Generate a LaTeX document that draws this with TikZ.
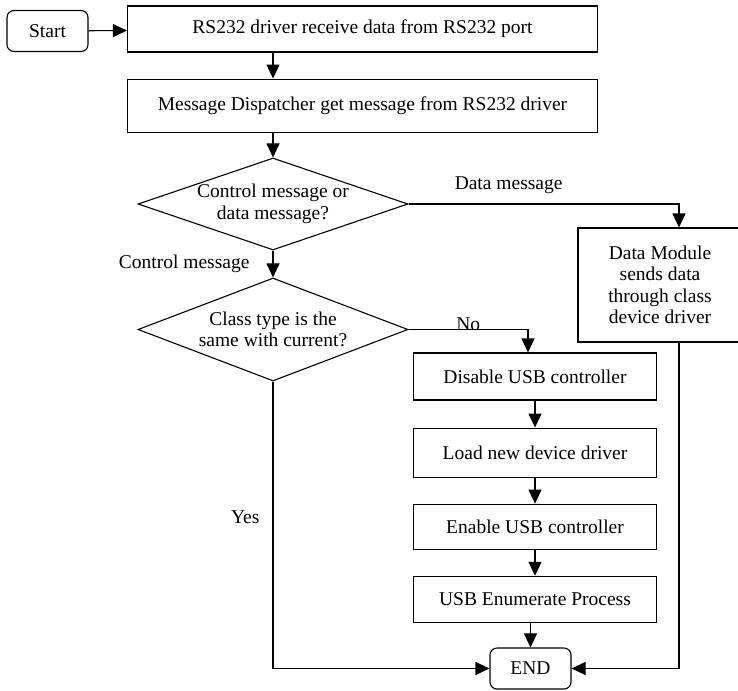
\documentclass[tikz,border=0pt]{standalone}
\usepackage{fontspec}
\setmainfont{Liberation Serif}
\usetikzlibrary{positioning, shapes.geometric, arrows.meta}

\begin{document}
\begin{tikzpicture}[
    x=1pt, y=-1pt,
    font=\fontsize{19.5}{21.5}\selectfont,
    line width=1.1pt,
    box style/.style={draw, align=center, inner sep=0pt, minimum width=243pt},
    term style/.style={draw, rounded corners=7pt, minimum width=81pt, minimum height=41pt, inner sep=0pt},
    cond style/.style={draw, diamond, aspect=3, minimum width=270pt, align=center, inner sep=0pt},
    label style/.style={inner sep=0pt},
    arrow style/.style={-{Triangle[length=14pt, width=13pt]}}
  ]
  \useasboundingbox (0,0) rectangle (738,690);

  % Top row
  \node[term style] (start) at (47.5,31) {Start};
  \node[box style, minimum width=470pt, minimum height=46pt] (recv) at (362.5,29) {RS232 driver receive data from RS232 port};
  \node[box style, minimum width=470pt, minimum height=53pt, below=26pt of recv] (disp) {Message Dispatcher get message from RS232 driver};

  % Decisions
  \node[cond style, minimum height=92pt] (kind) at (273,204) {Control message or\\data message?};
  \node[cond style, minimum height=103pt] (same) at (273,329.5) {Class type is the\\same with current?};

  % Right column
  \node[box style, minimum width=164pt, minimum height=114pt] (datamod) at (660,285) {Data Module\\sends data\\through class\\device driver};
  \node[box style, minimum height=47pt] (disable) at (535,376.5) {Disable USB controller};
  \node[box style, minimum height=49pt, below=27pt of disable] (load) {Load new device driver};
  \node[box style, minimum height=45pt, below=26pt of load] (enable) {Enable USB controller};
  \node[box style, minimum height=46pt, below=26pt of enable] (enum) {USB Enumerate Process};

  % Bottom
  \node[term style] (end) at (530.5,668.5) {END};

  \draw[arrow style] (start) -- (recv);
  \draw[arrow style] (recv.south -| kind.north) -- (disp.north -| kind.north);
  \draw[arrow style] (disp.south -| kind.north) -- (kind);
  \draw[arrow style] (kind.east) -| ([xshift=19pt]datamod.north)
    node[label style, pos=0.185, above=10pt] {Data message};
  \draw[arrow style] (kind) -- (same)
    node[label style, midway, left=23pt] {Control message};
  \draw[arrow style] (same.east) -| ([xshift=-7pt]disable.north)
    node[label style, pos=0.25, anchor=base, yshift=-1pt] {No};
  \draw[arrow style] (disable.south -| enable) -- (load);
  \draw[arrow style] (load) -- (enable);
  \draw[arrow style] (enable) -- (enum);
  \draw[arrow style] (enum.south -| end) -- (end);
  \draw[arrow style] (same.south) |- (end.west)
    node[label style, pos=0.237, left=13pt] {Yes};
  \draw[arrow style] ([xshift=19pt]datamod.south) |- (end.east);

\end{tikzpicture}
\end{document}
